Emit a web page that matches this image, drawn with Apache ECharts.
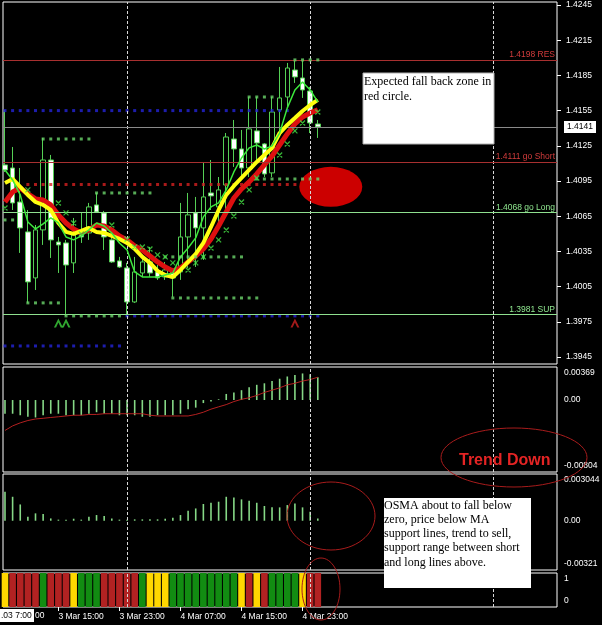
<!DOCTYPE html>
<html><head><meta charset="utf-8">
<script src="https://cdn.jsdelivr.net/npm/echarts@6/dist/echarts.min.js"></script>
<style>html,body{margin:0;padding:0;background:#000;}#c{width:602px;height:625px;}</style>
</head><body><div id="c"></div>
<script>
// ---------------- data ----------------
// hourly candles [open, close, low, high], bar 0 = 3 Mar 08:00
const candles = [
 [1.41087,1.41044,1.41027,1.41556],[1.41061,1.40763,1.40703,1.41240],[1.40771,1.40550,1.40337,1.41061],
 [1.40516,1.40090,1.39911,1.40703],[1.40124,1.40533,1.40021,1.40575],[1.40533,1.41129,1.40405,1.41317],
 [1.41129,1.40448,1.40294,1.41172],[1.40430,1.40405,1.40166,1.40473],[1.40422,1.40234,1.39800,1.40448],
 [1.40252,1.40490,1.40166,1.40635],[1.40516,1.40473,1.40422,1.40678],[1.40507,1.40729,1.40448,1.40763],
 [1.40746,1.40686,1.40678,1.40848],[1.40678,1.40473,1.40362,1.40695],[1.40448,1.40260,1.40252,1.40558],
 [1.40269,1.40217,1.40209,1.40303],[1.40209,1.39919,1.39791,1.40252],[1.39919,1.40175,1.39911,1.40303],
 [1.40166,1.40260,1.40132,1.40303],[1.40260,1.40166,1.40132,1.40388],[1.40175,1.40124,1.40107,1.40234],
 [1.40132,1.40192,1.40107,1.40260],[1.40183,1.40124,1.39962,1.40209],[1.40175,1.40473,1.40107,1.40763],
 [1.40473,1.40661,1.40209,1.40848],[1.40678,1.40550,1.40217,1.40814],[1.40550,1.40814,1.40277,1.41112],
 [1.40848,1.40823,1.40703,1.41129],[1.40729,1.40874,1.40558,1.40984],[1.40916,1.41325,1.40678,1.41359],
 [1.41308,1.41223,1.41070,1.41470],[1.41223,1.41061,1.40976,1.41385],[1.41061,1.41394,1.40984,1.41666],
 [1.41377,1.41274,1.41129,1.41666],[1.41266,1.41010,1.40984,1.41274],[1.41019,1.41538,1.40984,1.41666],
 [1.41556,1.41658,1.41359,1.41922],[1.41666,1.41913,1.41581,1.41956],[1.41896,1.41837,1.41786,1.41982],
 [1.41828,1.41726,1.41658,1.41982],[1.41717,1.41445,1.41359,1.41752],[1.41436,1.41411,1.41317,1.41470]
];
const maYellow = [1.40933,1.40967,1.40899,1.40831,1.40771,1.40746,1.40703,1.40592,1.40516,1.40499,
 1.40524,1.40550,1.40516,1.40507,1.40482,1.40456,1.40422,1.40371,1.40303,1.40252,
 1.40183,1.40149,1.40132,1.40192,1.40260,1.40328,1.40422,1.40558,1.40703,1.40831,
 1.40908,1.40976,1.41044,1.41112,1.41172,1.41232,1.41359,1.41428,1.41487,1.41547,1.41598,1.41641];
const maRed = [1.40771,1.40857,1.40891,1.40840,1.40797,1.40788,1.40746,1.40661,1.40592,1.40541,
 1.40507,1.40533,1.40575,1.40567,1.40533,1.40482,1.40448,1.40396,1.40362,1.40311,
 1.40260,1.40217,1.40183,1.40209,1.40260,1.40311,1.40371,1.40456,1.40567,1.40686,
 1.40805,1.40882,1.40942,1.41010,1.41087,1.41163,1.41257,1.41351,1.41436,1.41496,1.41530,1.41556];
const maGreen = [1.41044,1.40959,1.40831,1.40601,1.40541,1.40584,1.40635,1.40592,1.40473,1.40448,
 1.40482,1.40533,1.40592,1.40567,1.40507,1.40422,1.40362,1.40175,1.40132,1.40132,
 1.40132,1.40149,1.40166,1.40303,1.40379,1.40465,1.40644,1.40729,1.40763,1.40874,
 1.41027,1.41146,1.41232,1.41257,1.41223,1.41249,1.41359,1.41573,1.41726,1.41794,1.41726,1.41624];
const xMarkIdx = [0,3,7,8,9,10,14,16,17,18,19,20,21,22,24,25,26,27,28,29,30,31,32,33,36,37,38,39,41];
const xMarkPrice = [1.40720,1.40874,1.40763,1.40678,1.40592,1.40499,1.40575,1.40456,1.40388,1.40388,
 1.40371,1.40320,1.40303,1.40252,1.40192,1.40252,1.40303,1.40379,1.40448,1.40533,
 1.40652,1.40771,1.40874,1.40976,1.41172,1.41266,1.41377,1.41445,1.41538];
// dotted level segments: start bar, end bar, price
const fracStart = [0,5,12,3,8,21,22,33,32,38];
const fracEnd   = [1,11,19,7,15,31,33,41,35,41];
const fracPrice = [1.40618,1.41308,1.40848,1.39911,1.39800,1.40303,1.39953,1.40967,1.41666,1.41982];
const blueStart = [0,16,0];
const blueEnd   = [37,41,15];
const bluePrice = [1.41550,1.39800,1.39544];
const redDotStart = [3];
const redDotEnd   = [38];
const redDotPrice = [1.40920];
const arrowGreenIdx = [7,8];
const arrowRedIdx = [38];
const arrowPrice = 1.39740;
const levelValues = [1.4198,1.4111,1.4068,1.3981];
const levelNames  = ['1.4198 RES','1.4111 go Short','1.4068 go Long','1.3981 SUP'];
const currentPrice = 1.4141;
const zoneCenter = [42.7, 1.40900];
const priceTicks = [1.3945,1.3975,1.4005,1.4035,1.4065,1.4095,1.4125,1.4155,1.4185,1.4215,1.4245];
// panel 2 (histogram + signal)
const hist2 = [-0.00153,-0.00153,-0.00170,-0.00187,-0.00195,-0.00170,-0.00153,-0.00153,-0.00170,-0.00170,
 -0.00170,-0.00153,-0.00136,-0.00153,-0.00153,-0.00170,-0.00170,-0.00170,-0.00187,-0.00187,
 -0.00170,-0.00170,-0.00170,-0.00153,-0.00102,-0.00085,-0.00034,-0.00017,0.00008,0.00068,
 0.00085,0.00110,0.00144,0.00170,0.00187,0.00212,0.00238,0.00263,0.00280,0.00297,0.00289,0.00255];
const signal2 = [-0.00340,-0.00289,-0.00255,-0.00229,-0.00212,-0.00204,-0.00195,-0.00187,-0.00178,-0.00170,
 -0.00170,-0.00161,-0.00161,-0.00153,-0.00153,-0.00153,-0.00153,-0.00153,-0.00153,-0.00170,
 -0.00178,-0.00178,-0.00178,-0.00178,-0.00178,-0.00161,-0.00136,-0.00102,-0.00076,-0.00051,
 -0.00017,0.00008,0.00025,0.00051,0.00085,0.00110,0.00136,0.00170,0.00187,0.00212,0.00229,0.00255];
const p2Range = [-0.00804, 0.00369];
// panel 3 OSMA
const osma = [0.00189,0.00156,0.00106,0.00026,0.00048,0.00044,0.00015,0.00007,0.00007,0.00013,
 0.00007,0.00026,0.00037,0.00031,0.00015,0.00007,0.00007,0.00009,0.00009,0.00009,
 0.00009,0.00013,0.00020,0.00037,0.00065,0.00080,0.00109,0.00117,0.00124,0.00156,
 0.00152,0.00139,0.00130,0.00117,0.00096,0.00087,0.00087,0.00102,0.00113,0.00087,0.00059,0.00015];
const p3Range = [-0.00321, 0.003044];
const p3Labels = ['-0.00321','0.00','0.003044'];
// panel 4 trend colour bars
const trendState = ['Y','R','R','R','R','G','R','R','R','Y','G','G','G','R','R','R','R','R','G','Y',
 'Y','Y','G','G','G','G','G','G','G','G','G','Y','R','Y','R','G','G','G','G','Y','R','R'];
const daySeparators = [16, 40, 64];
const timeTickIdx = [7, 15, 23, 31, 39];
const timeTickLabels = ['3 Mar 15:00','3 Mar 23:00','4 Mar 07:00','4 Mar 15:00','4 Mar 23:00'];
const noteTop = ['Expected fall back zone in','red circle.'];
const noteOsma = ['OSMA about to fall below','zero, price below MA','support lines, trend to sell,','support range between short','and long lines above.'];

// ---------------- chart ----------------
const FONT = "'Liberation Sans', Arial, sans-serif";
const SERIF = "'Liberation Serif', 'Times New Roman', serif";
const X_MIN = -0.26, X_MAX = 72.35;
const idx = a => a.map((v,i)=>[i,v]);
function seg(st, en, pr){ const o=[]; st.forEach((s,k)=>{ for(let i=s;i<=en[k];i++) o.push([i,pr[k]]); }); return o; }
const stateColor = {R:'#b22222', G:'#128c12', Y:'#ffd700'};
const sepLine = () => ({silent:true, symbol:'none', precision:6, label:{show:false},
  lineStyle:{color:'#d8d8d8', type:[3,2], width:1}, data: daySeparators.map(v=>({xAxis:v}))});

const gridBase = {show:true, borderColor:'#ffffff', borderWidth:1, backgroundColor:'transparent', outerBoundsMode:'none', containLabel:false};
const grids = [
  {left:3, top:2, width:554, height:362},
  {left:3, top:367, width:554, height:105},
  {left:3, top:474, width:554, height:96},
  {left:3, top:573, width:554, height:34}
].map(g=>Object.assign({}, gridBase, g));

const xAxes = [0,1,2,3].map(i=>({
  type:'value', gridIndex:i, min:X_MIN, max:X_MAX, show: i===3,
  splitLine:{show:false}, axisLine:{show:false, onZero:false},
  axisTick:{show:i===3, customValues: timeTickIdx, length:4, lineStyle:{color:'#fff'}},
  axisLabel:{show:i===3, customValues: timeTickIdx, color:'#fff', fontSize:8.5, fontFamily:FONT, align:'left', margin:5,
    formatter: v => timeTickLabels[timeTickIdx.indexOf(v)] || ''}
}));

function subAxis(gi, range, labels){
  const vals = [range[0], 0, range[1]];
  return {type:'value', gridIndex:gi, position:'right', min:range[0], max:range[1],
    splitLine:{show:false}, axisLine:{show:false, onZero:false}, axisTick:{show:false},
    axisLabel:{customValues: vals, color:'#fff', fontSize:8.5, fontFamily:FONT, margin:7, lineHeight:12,
      formatter: v => { const t = labels[vals.indexOf(v)]; return v===range[1] ? '\n'+t : (v===range[0] ? t+'\n' : t); }}};
}
const yAxes = [
  {type:'value', gridIndex:0, position:'right', min:1.393902, max:1.424756,
   splitLine:{show:false}, axisLine:{show:false, onZero:false},
   axisTick:{show:true, customValues: priceTicks, length:4, lineStyle:{color:'#fff'}},
   axisLabel:{customValues: priceTicks, formatter: v=>v.toFixed(4), color:'#fff', fontSize:8.5, fontFamily:FONT, margin:9}},
  subAxis(1, p2Range, ['-0.00804','0.00','0.00369']),
  subAxis(2, p3Range, p3Labels),
  subAxis(3, [0,1], ['0','','1'])
];
yAxes[3].axisLabel.customValues = [0,1];
yAxes[3].axisLabel.formatter = v => v===1 ? '\n1' : '0\n';

const levelLines = levelValues.map((v,k)=>{
  const red = k<2;
  return {yAxis:v, lineStyle:{color: red ? '#a83030' : '#8fe08f', width:1, type:'solid'},
    label:{show:true, position:'insideEndTop', formatter: levelNames[k], color: red ? '#d23c3c' : '#90e890',
      fontSize:8.5, fontFamily:FONT, distance:[2,1]}};
});
levelLines.push({yAxis: currentPrice, lineStyle:{color:'#8a8a8a', width:1, type:'solid'},
  label:{show:true, position:'end', formatter: currentPrice.toFixed(4), color:'#000', backgroundColor:'#fff',
    padding:[2,3,1,3], fontSize:8.5, fontFamily:FONT, distance:7}});
const mainSep = sepLine();
mainSep.data = mainSep.data.concat(levelLines);

const series = [
  {type:'scatter', xAxisIndex:0, yAxisIndex:0, data:[zoneCenter], symbol:'circle', symbolSize:[63,40],
   itemStyle:{color:'#ff0000'}, silent:true, z:1},
  {type:'candlestick', xAxisIndex:0, yAxisIndex:0, data: candles.map((c,i)=>[i,c[0],c[1],c[2],c[3]]),
   encode:{x:0, y:[1,2,3,4]}, barWidth:5,
   itemStyle:{color:'#000000', color0:'#ffffff', borderColor:'#55d055', borderColor0:'#55d055', borderWidth:1},
   markLine: mainSep, z:2},
  {type:'scatter', xAxisIndex:0, yAxisIndex:0, data: seg(blueStart, blueEnd, bluePrice), symbol:'rect', symbolSize:3,
   itemStyle:{color:'#2424d8'}, silent:true, z:3},
  {type:'scatter', xAxisIndex:0, yAxisIndex:0, data: seg(redDotStart, redDotEnd, redDotPrice), symbol:'rect', symbolSize:3,
   itemStyle:{color:'#d42020'}, silent:true, z:3},
  {type:'line', xAxisIndex:0, yAxisIndex:0, data: idx(maRed), symbol:'none', lineStyle:{color:'#dd1010', width:5}, z:4, silent:true},
  {type:'line', xAxisIndex:0, yAxisIndex:0, data: idx(maYellow), symbol:'none', lineStyle:{color:'#ffff10', width:4}, z:5, silent:true},
  {type:'line', xAxisIndex:0, yAxisIndex:0, data: idx(maGreen), symbol:'none', lineStyle:{color:'#3ce83c', width:1.5}, z:6, silent:true},
  {type:'scatter', xAxisIndex:0, yAxisIndex:0, data: seg(fracStart, fracEnd, fracPrice), symbol:'rect', symbolSize:3,
   itemStyle:{color:'#6cd46c'}, silent:true, z:7},
  {type:'scatter', xAxisIndex:0, yAxisIndex:0, data: xMarkIdx.map((x,k)=>[x, xMarkPrice[k]]),
   symbol:'path://M0,0L10,10M10,0L0,10M0,10L10,0', symbolSize:5,
   itemStyle:{color:'transparent', borderColor:'#44dd44', borderWidth:1.3}, silent:true, z:7},
  {type:'scatter', xAxisIndex:0, yAxisIndex:0, data: arrowGreenIdx.map(x=>[x, arrowPrice]),
   symbol:'path://M0,10L5,0L10,10L7.6,10L5,4.6L2.4,10Z', symbolSize:[9,9], itemStyle:{color:'#3cd03c'}, silent:true, z:7},
  {type:'scatter', xAxisIndex:0, yAxisIndex:0, data: arrowRedIdx.map(x=>[x, arrowPrice]),
   symbol:'path://M0,10L5,0L10,10L7.6,10L5,4.6L2.4,10Z', symbolSize:[9,9], itemStyle:{color:'#cc2020'}, silent:true, z:7},
  // panel 2
  {type:'bar', xAxisIndex:1, yAxisIndex:1, data: idx(hist2), barWidth:1.6, itemStyle:{color:'#86d886'}, markLine: sepLine(), silent:true},
  {type:'line', xAxisIndex:1, yAxisIndex:1, data: idx(signal2), symbol:'none', lineStyle:{color:'#b42020', width:1}, silent:true},
  // panel 3
  {type:'bar', xAxisIndex:2, yAxisIndex:2, data: idx(osma), barWidth:1.6, itemStyle:{color:'#86d886'}, markLine: sepLine(), silent:true},
  // panel 4
  {type:'bar', xAxisIndex:3, yAxisIndex:3, data: trendState.map((s,i)=>({value:[i,1], itemStyle:{color:stateColor[s]}})),
   barWidth:6.6, markLine: sepLine(), silent:true}
];

const ann = '#a81c1c';
const graphic = [
  {type:'ellipse', shape:{cx:514, cy:457.5, rx:73, ry:29.5}, style:{fill:'none', stroke:ann, lineWidth:1}, z:20},
  {type:'ellipse', shape:{cx:331, cy:516, rx:44, ry:34}, style:{fill:'none', stroke:ann, lineWidth:1}, z:20},
  {type:'ellipse', shape:{cx:321, cy:589, rx:19, ry:31}, style:{fill:'none', stroke:ann, lineWidth:1}, z:20},
  {type:'text', x:459, y:461, style:{text:'Trend Down', fill:'#e42424', fontSize:16, fontWeight:'bold', fontFamily:FONT, verticalAlign:'middle'}, z:21},
  {type:'rect', shape:{x:363, y:73, width:131, height:71}, style:{fill:'#ffffff', stroke:'#b0b0b0', lineWidth:1}, z:22},
  {type:'text', x:364, y:74.5, style:{text: noteTop.join('\n'), fill:'#000', fontSize:12, fontFamily:SERIF, lineHeight:15, verticalAlign:'top'}, z:23},
  {type:'rect', shape:{x:384, y:498, width:147, height:90}, style:{fill:'#ffffff'}, z:22},
  {type:'text', x:384, y:498.5, style:{text: noteOsma.join('\n'), fill:'#000', fontSize:12, fontFamily:SERIF, lineHeight:14.2, verticalAlign:'top'}, z:23},
  {type:'rect', shape:{x:0, y:609, width:34, height:13}, style:{fill:'#ffffff'}, z:22},
  {type:'text', x:1, y:615.5, style:{text:'.03 7:00', fill:'#000', fontSize:8.5, fontFamily:FONT, verticalAlign:'middle'}, z:23},
  {type:'text', x:35, y:615.5, style:{text:'00', fill:'#fff', fontSize:8.5, fontFamily:FONT, verticalAlign:'middle'}, z:23}
];

const chart = echarts.init(document.getElementById('c'), null, {renderer:'canvas'});
chart.setOption({
  backgroundColor:'#000000', animation:false, textStyle:{fontFamily:FONT},
  grid: grids, xAxis: xAxes, yAxis: yAxes, series: series, graphic: graphic
});
</script>
</body></html>
